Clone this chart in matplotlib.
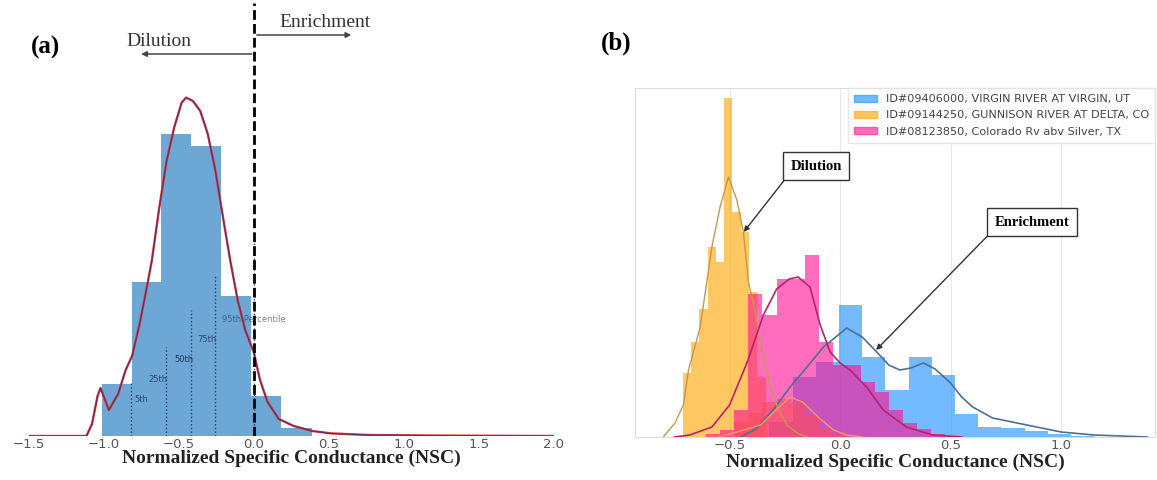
import numpy as np
import matplotlib.pyplot as plt
from matplotlib.patches import Patch

# ---------------- PANEL (a) DATA ----------------
# histogram of NSC (density)
nsc_edges = [-1.01, -0.81, -0.615, -0.42, -0.22, -0.015, 0.185, 0.385]
nsc_density = [0.26, 0.77, 1.51, 1.45, 0.70, 0.20, 0.04]

# kde curve of NSC
kde_a_x = [-1.5, -1.114, -1.077, -1.04, -1.02, -0.965, -0.903, -0.853, -0.81, -0.76, -0.709,
           -0.679, -0.629, -0.580, -0.530, -0.480, -0.450, -0.405, -0.356, -0.306, -0.256,
           -0.206, -0.157, -0.107, -0.057, 0.0, 0.042, 0.092, 0.167, 0.266, 0.39, 0.515,
           0.764, 1.26, 2.0]
kde_a_y = [0.0, 0.0, 0.06, 0.2, 0.24, 0.13, 0.21, 0.33, 0.40, 0.56, 0.755,
           0.875, 1.142, 1.375, 1.542, 1.667, 1.692, 1.675, 1.625, 1.51, 1.33,
           1.10, 0.88, 0.68, 0.53, 0.42, 0.28, 0.17, 0.085, 0.05, 0.025, 0.013,
           0.005, 0.002, 0.0]

pct_labels = ["5th", "25th", "50th", "75th", "95th Percentile"]
pct_values = [-0.82, -0.587, -0.42, -0.259, 0.0]
pct_tops = [0.265, 0.445, 0.63, 0.805, 0.985]

# ---------------- PANEL (b) DATA ----------------
station_labels = ["ID#09406000, VIRGIN RIVER AT VIRGIN, UT",
                  "ID#09144250, GUNNISON RIVER AT DELTA, CO",
                  "ID#08123850, Colorado Rv abv Silver, TX"]

virgin_edges = [-0.32, -0.215, -0.11, -0.005, 0.10, 0.205, 0.31, 0.415, 0.52, 0.625,
                0.73, 0.835, 0.94, 1.045, 1.15]
virgin_hist = [0.15, 0.60, 0.75, 1.32, 0.80, 0.47, 0.80, 0.62, 0.23, 0.10,
               0.09, 0.06, 0.03, 0.01]
virgin_kde_x = [-0.45, -0.38, -0.30, -0.226, -0.15, -0.075, 0.03, 0.10, 0.166, 0.22, 0.27,
                0.32, 0.377, 0.43, 0.50, 0.55, 0.60, 0.69, 0.845, 1.0, 1.15, 1.39]
virgin_kde_y = [0.0, 0.08, 0.28, 0.50, 0.70, 0.90, 1.09, 1.00, 0.85, 0.72, 0.67,
                0.69, 0.74, 0.68, 0.54, 0.40, 0.30, 0.19, 0.12, 0.05, 0.02, 0.0]

gunnison_edges = [-0.712, -0.6745, -0.637, -0.5995, -0.562, -0.5245, -0.487, -0.4495,
                  -0.412, -0.3745, -0.337]
gunnison_hist = [0.64, 0.95, 1.28, 1.90, 1.75, 3.39, 2.25, 2.05, 1.45, 0.60]
gunnison_kde_x = [-0.80, -0.747, -0.709, -0.686, -0.633, -0.58, -0.543, -0.505, -0.467,
                  -0.437, -0.415, -0.392, -0.36, -0.32, -0.28, -0.24, -0.20, -0.15]
gunnison_kde_y = [0.0, 0.14, 0.32, 0.67, 1.10, 1.90, 2.30, 2.60, 2.37,
                  2.04, 1.55, 1.34, 0.95, 0.55, 0.28, 0.12, 0.05, 0.0]

# low secondary orange mode seen under the pink bars
gunnison2_edges = [-0.479, -0.416, -0.353, -0.287, -0.224, -0.158, -0.097, -0.034, 0.03]
gunnison2_hist = [0.15, 0.24, 0.35, 0.38, 0.35, 0.22, 0.08, 0.03]
gunnison2_kde_x = [-0.55, -0.45, -0.36, -0.30, -0.226, -0.17, -0.10, -0.03, 0.03, 0.1]
gunnison2_kde_y = [0.0, 0.06, 0.12, 0.25, 0.40, 0.35, 0.20, 0.07, 0.02, 0.0]

colorado_edges = [-0.605, -0.542, -0.479, -0.416, -0.353, -0.287, -0.224, -0.158, -0.097,
                  -0.034, 0.03, 0.093, 0.156, 0.22, 0.283, 0.346, 0.41, 0.473]
colorado_hist = [0.03, 0.07, 0.27, 1.43, 1.22, 1.58, 1.58, 1.82, 0.95,
                 0.72, 0.72, 0.55, 0.45, 0.27, 0.14, 0.08, 0.03]
colorado_kde_x = [-0.75, -0.68, -0.58, -0.50, -0.42, -0.347, -0.287, -0.23, -0.19, -0.136,
                  -0.09, -0.045, 0.0, 0.045, 0.12, 0.195, 0.30, 0.42, 0.55]
colorado_kde_y = [0.0, 0.02, 0.10, 0.32, 0.75, 1.22, 1.48, 1.58, 1.60, 1.50,
                  1.12, 0.85, 0.74, 0.67, 0.50, 0.27, 0.10, 0.02, 0.0]

SERIF = "Liberation Serif"

fig = plt.figure(figsize=(11.57, 4.8), dpi=100)

###########
# PANEL A #
###########
ax1 = fig.add_axes([28.5 / 1157, 44 / 480, 525.5 / 1157, 433 / 480])
ax1.hist(nsc_edges[:-1], bins=nsc_edges, weights=nsc_density, color="#6da7d5")
ax1.plot(kde_a_x, kde_a_y, color="#d0393f", lw=1.7)
ax1.plot(kde_a_x, kde_a_y, color="#3d2a6a", lw=0.7, alpha=0.8)

# percentile markers
label_dx = [0.07, -0.05, -0.045, -0.053, 0.0]
label_y = [0.18, 0.28, 0.38, 0.485, 0.58]
label_alpha = [0.8, 0.85, 1.0, 0.85, 0.6]
for i, q in enumerate(pct_values):
    ax1.vlines(q, 0, pct_tops[i], colors="#1f3355", linestyles=":", lw=1.0, alpha=0.9)
    ax1.text(q + label_dx[i], label_y[i], pct_labels[i], fontsize=6, color="#1f3355",
             alpha=label_alpha[i], ha="center", va="center")

ax1.axvline(0.0, color="black", lw=2, ls=(0, (3.5, 1.5)))
ax1.annotate("", xy=(-0.75, 1.91), xytext=(-0.013, 1.91),
             arrowprops=dict(arrowstyle="-|>", color="#444444", lw=1.1, mutation_scale=8,
                             shrinkA=0, shrinkB=0))
ax1.annotate("", xy=(0.65, 2.005), xytext=(0.02, 2.005),
             arrowprops=dict(arrowstyle="-|>", color="#444444", lw=1.1, mutation_scale=8,
                             shrinkA=0, shrinkB=0))
ax1.text(-0.63, 1.975, "Dilution", family=SERIF, fontsize=14, ha="center", va="center",
         color="#333333")
ax1.text(0.478, 2.07, "Enrichment", family=SERIF, fontsize=14, ha="center", va="center",
         color="#333333")

ax1.set_xlim(-1.5, 2.0)
ax1.set_ylim(0, 2.165)
ax1.set_xticks([-1.5, -1.0, -0.5, 0.0, 0.5, 1.0, 1.5, 2.0])
ax1.set_yticks([])
ax1.tick_params(axis="x", length=0, labelsize=9.5, labelcolor="#555555", pad=1.5)
for s in ax1.spines.values():
    s.set_visible(False)
ax1.patch.set_alpha(0)

###########
# PANEL B #
###########
ax2 = fig.add_axes([635 / 1157, 43 / 480, 520 / 1157, 349 / 480])
ALPHA = 0.62
ax2.hist(virgin_edges[:-1], bins=virgin_edges, weights=virgin_hist, color="dodgerblue",
         alpha=ALPHA, zorder=2)
ax2.hist(gunnison_edges[:-1], bins=gunnison_edges, weights=gunnison_hist, color="orange",
         alpha=ALPHA, zorder=2)
ax2.hist(gunnison2_edges[:-1], bins=gunnison2_edges, weights=gunnison2_hist, color="orange",
         alpha=ALPHA, zorder=2)
ax2.hist(colorado_edges[:-1], bins=colorado_edges, weights=colorado_hist, color="deeppink",
         alpha=ALPHA, zorder=2)

ax2.plot(virgin_kde_x, virgin_kde_y, color="#4d7092", lw=1.2, zorder=3)
ax2.plot(gunnison_kde_x, gunnison_kde_y, color="#c39a4c", lw=1.0, zorder=3)
ax2.plot(gunnison2_kde_x, gunnison2_kde_y, color="#f09a66", lw=1.0, zorder=3)
ax2.plot(colorado_kde_x, colorado_kde_y, color="#b8226c", lw=1.2, zorder=3)

box = dict(boxstyle="square,pad=0.5", fc="white", ec="#333333", lw=1.0)
arrow = dict(arrowstyle="-|>", color="#333333", lw=1.0, mutation_scale=8, relpos=(0.0, 0.0),
             shrinkA=0, shrinkB=0)
ax2.annotate("Dilution", xy=(-0.436, 2.05), xytext=(-0.109, 2.71), fontsize=10.5,
             fontweight="bold", family=SERIF, ha="center", va="center", bbox=box,
             arrowprops=arrow, zorder=5)
ax2.annotate("Enrichment", xy=(0.163, 0.87), xytext=(0.869, 2.15), fontsize=10.5,
             fontweight="bold", family=SERIF, ha="center", va="center", bbox=box,
             arrowprops=arrow, zorder=5)

handles = [Patch(color="dodgerblue", alpha=ALPHA), Patch(color="orange", alpha=ALPHA),
           Patch(color="deeppink", alpha=ALPHA)]
leg = ax2.legend(handles, station_labels, loc="upper right", fontsize=8.1, frameon=True,
                 edgecolor="#e2e2e2", fancybox=False, borderaxespad=0.0, handlelength=2.0,
                 handleheight=0.55, handletextpad=0.8, labelspacing=0.55, borderpad=0.55)
for t in leg.get_texts():
    t.set_color("#444444")

ax2.set_xlim(-0.928, 1.425)
ax2.set_ylim(0, 3.49)
ax2.set_xticks([-0.5, 0.0, 0.5, 1.0])
ax2.set_yticks([])
ax2.grid(axis="x", color="#e8e8e8", lw=0.9, zorder=0)
ax2.set_axisbelow(True)
ax2.tick_params(axis="x", length=0, labelsize=9.5, labelcolor="#555555", pad=1.5)
for s in ax2.spines.values():
    s.set_color("#dddddd")
    s.set_linewidth(0.8)

# axis labels and panel tags
fig.text(291 / 1157, 1 - 450 / 480, "Normalized Specific Conductance (NSC)", family=SERIF,
         fontweight="bold", fontsize=14, ha="center", va="top", color="#222222")
fig.text(895 / 1157, 1 - 454 / 480, "Normalized Specific Conductance (NSC)", family=SERIF,
         fontweight="bold", fontsize=14, ha="center", va="top", color="#222222")
fig.text(46 / 1157, 1 - 47 / 480, "(a)", family=SERIF, fontweight="bold", fontsize=18,
         ha="center", va="center")
fig.text(616 / 1157, 1 - 43 / 480, "(b)", family=SERIF, fontweight="bold", fontsize=18,
         ha="center", va="center")

fig.savefig("out.png", dpi=100)
